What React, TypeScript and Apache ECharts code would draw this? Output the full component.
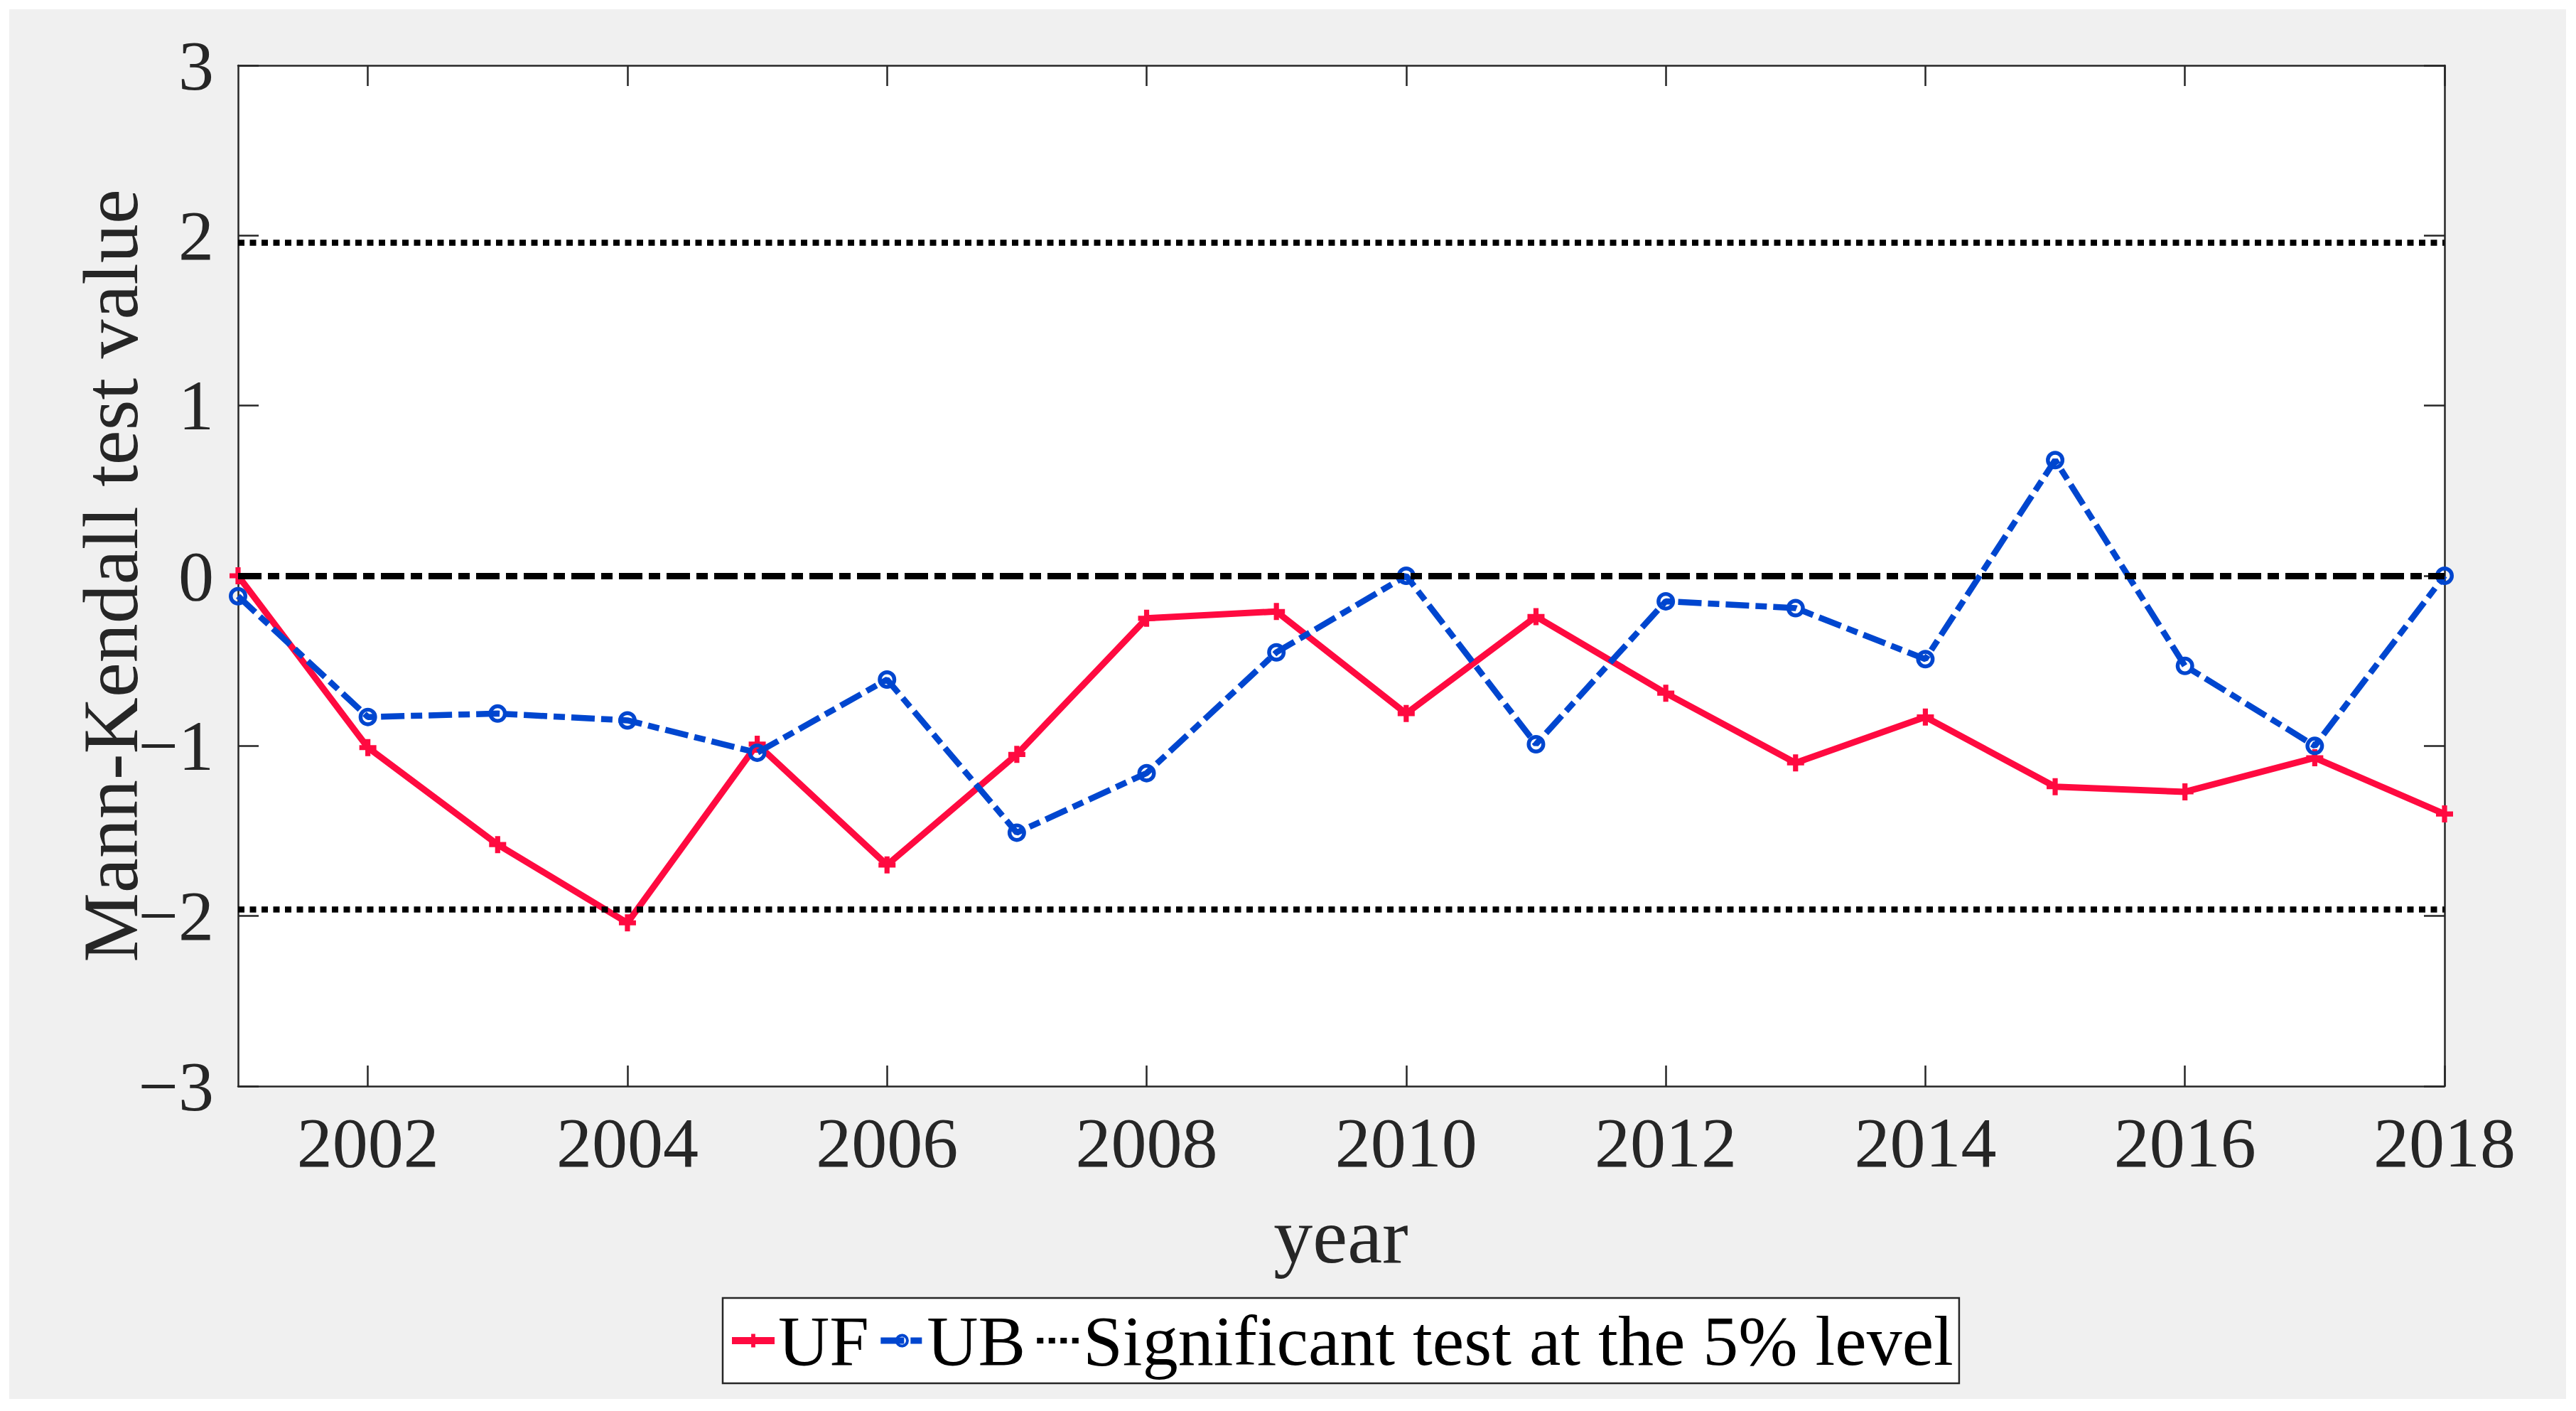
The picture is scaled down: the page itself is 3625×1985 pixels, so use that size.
import React, { useEffect, useRef } from 'react';
import * as echarts from 'echarts';

const years = ['2001', '2002', '2003', '2004', '2005', '2006', '2007', '2008', '2009', '2010', '2011', '2012', '2013', '2014', '2015', '2016', '2017', '2018'];
const ufValues = [0, -1.01, -1.58, -2.04, -0.99, -1.7, -1.05, -0.25, -0.21, -0.81, -0.24, -0.69, -1.1, -0.83, -1.24, -1.27, -1.07, -1.4];
const ubValues = [-0.12, -0.83, -0.81, -0.85, -1.04, -0.61, -1.51, -1.16, -0.45, 0.0, -0.99, -0.15, -0.19, -0.49, 0.68, -0.53, -1.0, 0.0];
const significanceLevels = [1.96, -1.96];
const zeroLevel = [0];
const yMin = -3;
const yMax = 3;
const yStep = 1;
const legendNames = ['UF', 'UB', 'Significant test at the 5% level'];

export default function App() {
  const ref = useRef<HTMLDivElement>(null);
  useEffect(() => {
    const chart = echarts.init(ref.current!, null, { renderer: 'svg' });
    const font = 'Liberation Serif';
    const axisColor = '#262626';
    const red = '#FF0A40';
    const blue = '#0046CF';
    const plus = 'path://M3.5,0h3v3.5h3.5v3h-3.5v3.5h-3v-3.5h-3.5v-3h3.5z';
    const ring = 'path://M10,0A10,10 0 1,1 10,20A10,10 0 1,1 10,0ZM10,4.2A5.8,5.8 0 1,0 10,15.8A5.8,5.8 0 1,0 10,4.2Z';
    const dashDot = [33, 9, 16, 9];
    const dotted = [9, 7.5];
    const tickInterval = (i: number) => i % 2 === 1;
    const axisLineStyle = { color: axisColor, width: 2.5 };
    chart.setOption({
      animation: false,
      backgroundColor: '#ffffff',
      graphic: [
        {
          type: 'rect',
          z: -100,
          silent: true,
          shape: { x: 13, y: 13, width: 3598, height: 1955 },
          style: { fill: '#f0f0f0' },
        },
        {
          type: 'text',
          x: 156,
          y: 810,
          rotation: Math.PI / 2,
          silent: true,
          style: {
            text: 'Mann-Kendall test value',
            font: `110px "${font}"`,
            fill: axisColor,
            align: 'center',
            verticalAlign: 'middle',
          },
        },
        {
          type: 'text',
          x: 1887,
          y: 1739,
          silent: true,
          style: {
            text: 'year',
            font: `110px "${font}"`,
            fill: axisColor,
            align: 'center',
            verticalAlign: 'middle',
          },
        },
      ],
      grid: {
        left: 335,
        top: 92,
        right: 185,
        bottom: 457,
        show: true,
        backgroundColor: '#ffffff',
        borderWidth: 0,
        containLabel: false,
      },
      xAxis: [
        {
          type: 'category',
          data: years,
          boundaryGap: false,
          position: 'bottom',
          axisLine: { show: true, onZero: false, lineStyle: axisLineStyle },
          axisTick: { show: true, inside: true, length: 29, interval: tickInterval, lineStyle: axisLineStyle },
          axisLabel: { interval: tickInterval, margin: 29, fontSize: 100, fontFamily: font, color: axisColor },
          splitLine: { show: false },
        },
        {
          type: 'category',
          data: years,
          boundaryGap: false,
          position: 'top',
          axisLine: { show: true, onZero: false, lineStyle: axisLineStyle },
          axisTick: { show: true, inside: true, length: 29, interval: tickInterval, lineStyle: axisLineStyle },
          axisLabel: { show: false },
          splitLine: { show: false },
        },
      ],
      yAxis: [
        {
          type: 'value',
          min: yMin,
          max: yMax,
          interval: yStep,
          position: 'left',
          axisLine: { show: true, onZero: false, lineStyle: axisLineStyle },
          axisTick: { show: true, inside: true, length: 29, lineStyle: axisLineStyle },
          axisLabel: {
            margin: 34,
            fontSize: 100,
            fontFamily: font,
            color: axisColor,
            formatter: (v: number) => (v < 0 ? '\u2212' + Math.abs(v) : String(v)),
          },
          splitLine: { show: false },
        },
        {
          type: 'value',
          min: yMin,
          max: yMax,
          interval: yStep,
          position: 'right',
          axisLine: { show: true, onZero: false, lineStyle: axisLineStyle },
          axisTick: { show: true, inside: true, length: 29, lineStyle: axisLineStyle },
          axisLabel: { show: false },
          splitLine: { show: false },
        },
      ],
      legend: {
        data: [
          { name: legendNames[0], lineStyle: { width: 10 } },
          { name: legendNames[1], lineStyle: { width: 9 } },
          { name: legendNames[2], lineStyle: { width: 8 }, itemStyle: { opacity: 0 } },
        ],
        left: 1017,
        top: 1826,
        orient: 'horizontal',
        padding: [10, 8, 10, 8],
        itemGap: 12,
        itemWidth: 60,
        itemHeight: 24,
        backgroundColor: '#ffffff',
        borderColor: axisColor,
        borderWidth: 2.5,
        borderRadius: 0,
        selectedMode: false,
        textStyle: { fontFamily: font, fontSize: 100, color: '#000000' },
      },
      series: [
        {
          name: legendNames[0],
          type: 'line',
          data: ufValues,
          xAxisIndex: 0,
          yAxisIndex: 0,
          symbol: plus,
          symbolSize: 24,
          lineStyle: { color: red, width: 9 },
          itemStyle: { color: red },
          emphasis: { disabled: true },
          z: 3,
        },
        {
          name: legendNames[1],
          type: 'line',
          data: ubValues,
          xAxisIndex: 0,
          yAxisIndex: 0,
          symbol: ring,
          symbolSize: 26,
          lineStyle: { color: blue, width: 8.5, type: dashDot },
          itemStyle: { color: blue },
          emphasis: { disabled: true },
          z: 4,
        },
        {
          name: legendNames[2],
          type: 'line',
          data: [],
          xAxisIndex: 0,
          yAxisIndex: 0,
          symbol: 'none',
          lineStyle: { color: '#000000', width: 8, type: dotted },
          itemStyle: { color: '#000000' },
          markLine: {
            silent: true,
            symbol: ['none', 'none'],
            label: { show: false },
            emphasis: { disabled: true },
            lineStyle: { color: '#000000', width: 8.5, type: dotted },
            data: significanceLevels.map((v) => ({ yAxis: v })),
          },
          z: 5,
        },
        {
          name: 'zero',
          type: 'line',
          data: [],
          xAxisIndex: 0,
          yAxisIndex: 0,
          symbol: 'none',
          lineStyle: { color: '#000000', width: 9, type: dashDot },
          markLine: {
            silent: true,
            symbol: ['none', 'none'],
            label: { show: false },
            emphasis: { disabled: true },
            lineStyle: { color: '#000000', width: 9, type: dashDot },
            data: zeroLevel.map((v) => ({ yAxis: v })),
          },
          z: 5,
        },
      ],
    });
    return () => chart.dispose();
  }, []);
  return <div ref={ref} style={{ position: 'fixed', left: 0, top: 0, width: 3625, height: 1985 }} />;
}
